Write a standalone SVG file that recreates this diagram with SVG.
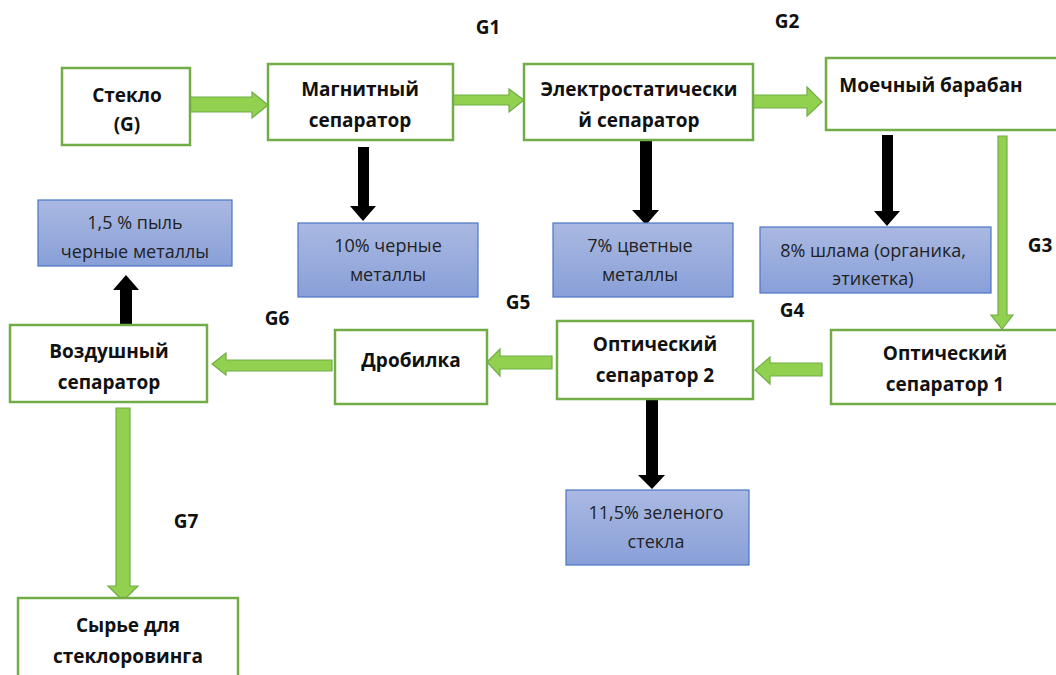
<svg xmlns="http://www.w3.org/2000/svg" width="1056" height="675" viewBox="0 0 1056 675">
<defs>
<linearGradient id="bg" x1="0" y1="0" x2="0" y2="1">
<stop offset="0" stop-color="#AAB9E2"/>
<stop offset="1" stop-color="#889FD8"/>
</linearGradient>
</defs>
<style>
.n rect{fill:#fff;stroke:#70AD47;stroke-width:2.5}
.b rect{fill:url(#bg);stroke:#4A76C6;stroke-width:1.2}
.n text{font-family:"Open Sans","Liberation Sans",sans-serif;font-weight:bold;font-size:19px;fill:#111;text-anchor:middle}
.b text{font-family:"Open Sans","Liberation Sans",sans-serif;font-size:18px;fill:#222;text-anchor:middle}
.g{fill:#92D050;stroke:#70AD47;stroke-width:1.2}
.k{fill:#000}
.lbl{font-family:"Open Sans","Liberation Sans",sans-serif;font-weight:bold;font-size:19px;fill:#111;text-anchor:middle}
</style>
<rect width="1056" height="675" fill="#fff"/>
<g id="connectors">
<path class="g" d="M190,97 H252 V92 L268,105 L252,118 V112 H190 Z"/>
<path class="g" d="M453,95 H509 V89 L524,100 L509,112 V105 H453 Z"/>
<path class="g" d="M753,95 H807 V87 L822,102 L807,116 V108 H753 Z"/>
<path class="g" d="M998,136 H1007 V315 H1013 L1002,329 L991,315 H998 Z"/>
<path class="g" d="M822,363 H770 V357 L755,370 L770,384 V376 H822 Z"/>
<path class="g" d="M552,356 H500 V349 L487,362 L500,376 V369 H552 Z"/>
<path class="g" d="M332,360 H226 V353 L212,364 L226,375 V371 H332 Z"/>
<path class="g" d="M116,408 H130 V586 H138 L123,601 L108,586 H116 Z"/>
<path class="k" d="M358,147 H369 V206 H376 L363,221 L350,206 H358 Z"/>
<path class="k" d="M640,141 H652 V210 H659 L646,225 L632,210 H640 Z"/>
<path class="k" d="M882,135 H893 V211 H900 L887,226 L874,211 H882 Z"/>
<path class="k" d="M646,400 H658 V475 H665 L652,489 L638,475 H646 Z"/>
<path class="k" d="M120,325 H132 V290 H139 L126,275 L113,290 H120 Z"/>
</g>
<g id="labels">
<text class="lbl" x="488" y="34">G1</text>
<text class="lbl" x="787" y="28">G2</text>
<text class="lbl" x="1040" y="252">G3</text>
<text class="lbl" x="792" y="317">G4</text>
<text class="lbl" x="518" y="309">G5</text>
<text class="lbl" x="277" y="325">G6</text>
<text class="lbl" x="186" y="528">G7</text>
</g>
<g id="steklo" class="n"><rect x="62" y="68" width="128" height="77"/><text x="127" y="102">Стекло</text><text x="127" y="131">(G)</text></g>
<g id="magnit" class="n"><rect x="268" y="64" width="185" height="76"/><text x="360" y="96">Магнитный</text><text x="360" y="127">сепаратор</text></g>
<g id="electro" class="n"><rect x="524" y="64" width="229" height="76"/><text x="639" y="96">Электростатически</text><text x="639" y="127">й сепаратор</text></g>
<g id="moech" class="n"><rect x="826" y="58" width="240" height="72"/><text x="931" y="92">Моечный барабан</text></g>
<g id="opt1" class="n"><rect x="831" y="330" width="235" height="74"/><text x="945" y="360">Оптический</text><text x="945" y="391">сепаратор 1</text></g>
<g id="opt2" class="n"><rect x="557" y="321" width="196" height="78"/><text x="655" y="351">Оптический</text><text x="655" y="382">сепаратор 2</text></g>
<g id="drob" class="n"><rect x="335" y="330" width="152" height="74"/><text x="411" y="367">Дробилка</text></g>
<g id="vozd" class="n"><rect x="10" y="325" width="197" height="77"/><text x="109" y="358">Воздушный</text><text x="109" y="389">сепаратор</text></g>
<g id="syrie" class="n"><rect x="18" y="598" width="220" height="90"/><text x="128" y="632">Сырье для</text><text x="128" y="663">стеклоровинга</text></g>
<g id="pyl" class="b"><rect x="38" y="200" width="194" height="66"/><text x="135" y="229">1,5 % пыль</text><text x="135" y="258">черные металлы</text></g>
<g id="chern" class="b"><rect x="298" y="223" width="180" height="74"/><text x="388" y="252">10% черные</text><text x="388" y="281">металлы</text></g>
<g id="cvet" class="b"><rect x="553" y="223" width="180" height="74"/><text x="640" y="252">7% цветные</text><text x="640" y="281">металлы</text></g>
<g id="shlam" class="b"><rect x="760" y="227" width="231" height="66"/><text x="873" y="257">8% шлама (органика,</text><text x="873" y="285">этикетка)</text></g>
<g id="zel" class="b"><rect x="566" y="490" width="183" height="75"/><text x="656" y="519">11,5% зеленого</text><text x="656" y="548">стекла</text></g>
</svg>
